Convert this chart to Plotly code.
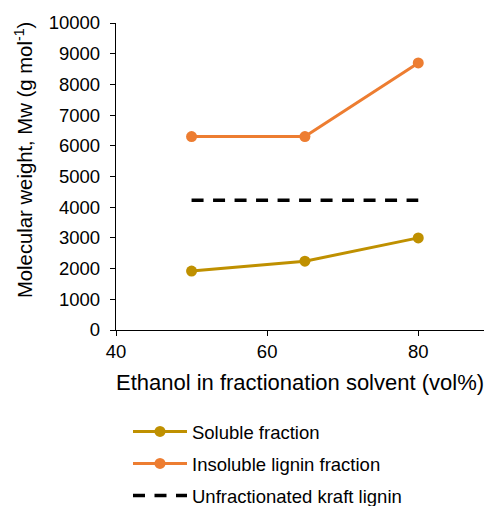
import plotly.graph_objects as go

# Ethanol content of the fractionation solvent (vol%)
ethanol = [50, 65, 80]

# Weight-average molecular weight, Mw (g/mol)
soluble_mw = [1920, 2240, 3000]
insoluble_mw = [6300, 6300, 8700]
kraft_mw = [4230, 4230, 4230]

series_names = ["Soluble fraction", "Insoluble lignin fraction", "Unfractionated kraft lignin"]

FONT = "Liberation Sans, Arial, sans-serif"
FS = 18.5

fig = go.Figure()
fig.add_trace(go.Scatter(
    x=ethanol, y=soluble_mw, name=series_names[0], mode="lines+markers",
    legendgroup="a",
    line=dict(color="#BF9000", width=3), marker=dict(size=11, color="#BF9000"),
))
fig.add_trace(go.Scatter(
    x=ethanol, y=insoluble_mw, name=series_names[1], mode="lines+markers",
    legendgroup="b",
    line=dict(color="#ED7D31", width=3), marker=dict(size=11, color="#ED7D31"),
))
fig.add_trace(go.Scatter(
    x=ethanol, y=kraft_mw, name=series_names[2], mode="lines",
    legendgroup="c",
    line=dict(color="black", width=3.5, dash="12px,9.5px"),
))

# y-axis title, placed as a rotated annotation beside the tick labels
fig.add_annotation(
    text="Molecular weight, Mw (g mol<sup>-1</sup>)",
    textangle=-90, xref="paper", yref="paper",
    x=-0.25, y=0.5535, xanchor="center", yanchor="middle",
    showarrow=False, font=dict(family=FONT, size=20.3, color="black"),
)

fig.update_layout(
    width=484, height=506,
    margin=dict(l=116, r=0, t=23, b=176, autoexpand=False),
    paper_bgcolor="white", plot_bgcolor="white",
    font=dict(family=FONT, size=FS, color="black"),
    showlegend=True,
    legend=dict(
        x=0.0326, xanchor="left", y=-0.27, yanchor="top",
        font=dict(size=FS), itemwidth=54, traceorder="grouped", tracegroupgap=5,
        bgcolor="rgba(0,0,0,0)",
    ),
    xaxis=dict(
        range=[40, 88.7], tickvals=[40, 60, 80], showgrid=False, zeroline=False,
        showline=True, linecolor="black", linewidth=1.3,
        ticks="outside", ticklen=5, tickcolor="black",
        title=dict(text="Ethanol in fractionation solvent (vol%)", standoff=13),
    ),
    yaxis=dict(
        range=[0, 10000], dtick=1000, tickformat="d", showgrid=False, zeroline=False,
        showline=True, linecolor="black", linewidth=1.3,
        ticks="outside", ticklen=5, tickcolor="black", ticklabelstandoff=6,
    ),
)

fig.write_html("out.html")
